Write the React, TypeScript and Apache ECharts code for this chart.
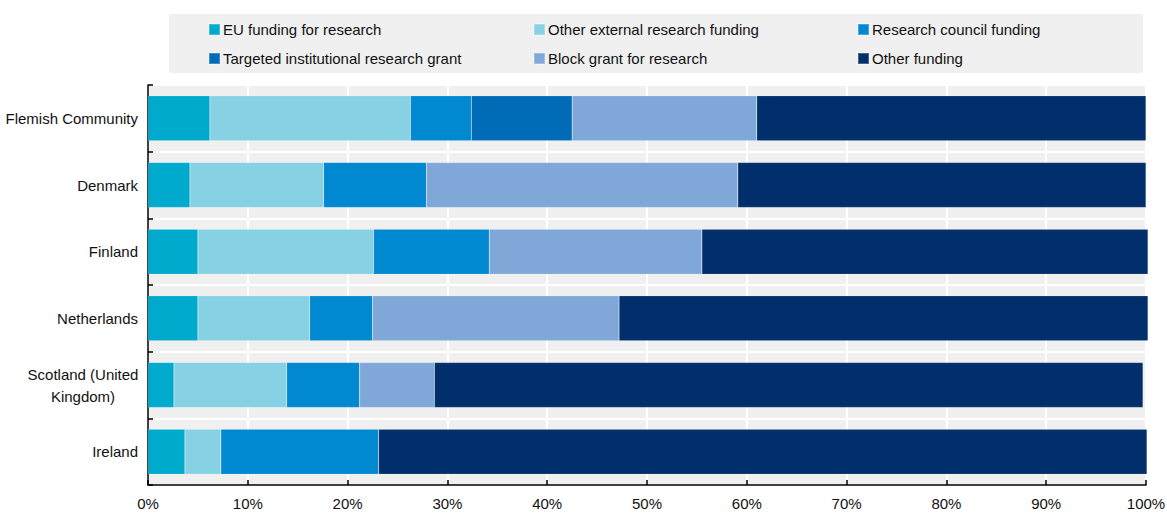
import { useEffect, useRef } from "react";
import * as echarts from "echarts";

const categories = [
  "Flemish Community",
  "Denmark",
  "Finland",
  "Netherlands",
  "Scotland (United Kingdom)",
  "Ireland",
];
const seriesNames = [
  "EU funding for research",
  "Other external research funding",
  "Research council funding",
  "Targeted institutional research grant",
  "Block grant for research",
  "Other funding",
];
const euFunding = [6.2, 4.2, 5.0, 5.0, 2.6, 3.7];
const otherExternal = [20.1, 13.4, 17.6, 11.2, 11.3, 3.6];
const researchCouncil = [6.1, 10.3, 11.6, 6.3, 7.3, 15.8];
const targetedGrant = [10.1, 0, 0, 0, 0, 0];
const blockGrant = [18.5, 31.2, 21.3, 24.7, 7.5, 0];
const otherFunding = [39.0, 40.9, 44.7, 53.0, 71.0, 77.0];
const seriesValues = [euFunding, otherExternal, researchCouncil, targetedGrant, blockGrant, otherFunding];
const colors = ["#00AACC", "#86D1E4", "#0088D0", "#006BB6", "#7FA8D9", "#002F6C"];

const FONT = "'Liberation Sans Narrow', 'Arial Narrow', 'Liberation Sans', Arial, sans-serif";
const FS = 15;

// legend placement: [left, top]
const legendPos = [
  [208, 22],
  [533, 22],
  [857, 22],
  [208, 51],
  [533, 51],
  [857, 51],
];

export default function App() {
  const ref = useRef<HTMLDivElement>(null);
  useEffect(() => {
    if (!ref.current) return;
    const chart = echarts.init(ref.current, null, { renderer: "svg" });
    chart.setOption({
      animation: false,
      backgroundColor: "#ffffff",
      textStyle: { fontFamily: FONT },
      graphic: [
        {
          type: "rect",
          left: 169,
          top: 14,
          z: 0,
          shape: { width: 974, height: 59 },
          style: { fill: "#f0f0f0" },
        },
      ],
      legend: seriesNames.map((n, i) => ({
        data: [n],
        left: legendPos[i][0],
        top: legendPos[i][1],
        padding: 0,
        icon: "rect",
        itemWidth: 11,
        itemHeight: 11,
        z: 5,
        selectedMode: false,
        textStyle: { fontFamily: FONT, fontSize: FS, color: "#111", padding: [0, 0, 0, -2] },
      })),
      grid: {
        left: 148,
        right: 21,
        top: 85,
        bottom: 30,
        show: true,
        backgroundColor: "#f0f0f0",
        borderWidth: 0,
        containLabel: false,
        outerBoundsMode: "none",
      },
      xAxis: {
        type: "value",
        min: 0,
        max: 100,
        interval: 10,
        axisLine: { show: true, lineStyle: { color: "#000", width: 1.5 } },
        axisTick: { show: true, inside: true, length: 5, lineStyle: { color: "#000", width: 1.5 } },
        axisLabel: { formatter: "{value}%", fontFamily: FONT, fontSize: FS, color: "#111", margin: 11 },
        splitLine: { show: true, lineStyle: { color: "#ffffff", width: 2 } },
      },
      yAxis: {
        type: "category",
        inverse: true,
        data: categories,
        axisLine: { show: true, lineStyle: { color: "#000", width: 1.5 } },
        axisTick: { show: true, inside: true, length: 5, lineStyle: { color: "#000", width: 1.5 } },
        splitLine: { show: true, lineStyle: { color: "#ffffff", width: 2 } },
        axisLabel: {
          fontFamily: FONT,
          fontSize: FS,
          color: "#111",
          margin: 10,
          align: "right",
          lineHeight: 22,
          formatter: (v: string) =>
            v === "Scotland (United Kingdom)" ? "{c|Scotland (United}\n{c|Kingdom)}" : v,
          rich: {
            c: { width: 110, align: "center", fontFamily: FONT, fontSize: FS, color: "#111", lineHeight: 22 },
          },
        },
      },
      series: seriesNames.map((n, i) => ({
        name: n,
        type: "bar",
        stack: "total",
        barWidth: 45,
        clip: false,
        itemStyle: { color: colors[i], borderColor: "rgba(255,255,255,0.25)", borderWidth: 0.5 },
        data: seriesValues[i],
      })),
    });
    return () => chart.dispose();
  }, []);
  return (
    <div
      ref={ref}
      style={{ position: "fixed", left: 0, top: 0, width: 1167, height: 515 }}
    />
  );
}
